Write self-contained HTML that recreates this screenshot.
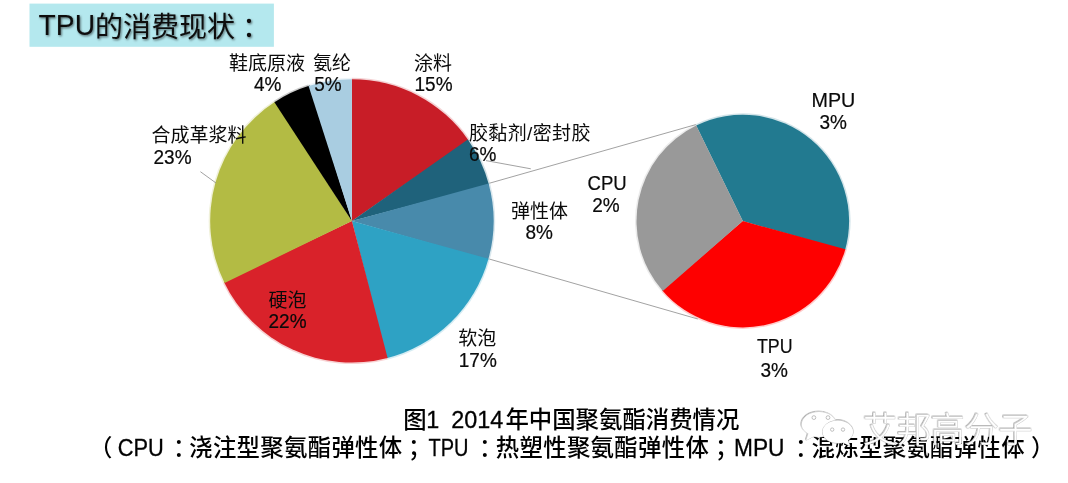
<!DOCTYPE html>
<html lang="zh-CN"><head><meta charset="utf-8"><title>TPU的消费现状</title>
<style>
html,body{margin:0;padding:0;background:#fff;}
body{width:1068px;height:483px;overflow:hidden;position:relative;font-family:"Liberation Sans","Noto Sans CJK SC",sans-serif;}
svg{position:absolute;left:0;top:0;display:block;}
svg text{font-family:"Liberation Sans","Noto Sans CJK SC",sans-serif;fill:#0a0a0a;font-weight:500;}
.lt{stroke:#0a0a0a;stroke-width:0.3px;}
.lab text{font-size:19px;font-weight:400;}
.lab .lt{font-size:19.95px;stroke-width:0.2px;}
.cap text{font-size:23.4px;fill:#000;}
.title{font-size:28px;fill:#0b0b0b;font-weight:400;}
.title .tl{font-size:30px;}
.wm{font-size:34px;fill:#fff;font-weight:300;}
</style></head><body>
<svg width="1068" height="483" viewBox="0 0 1068 483">
<defs>
<filter id="ts" x="-5%" y="-20%" width="110%" height="150%"><feDropShadow dx="1" dy="1.2" stdDeviation="0.9" flood-color="#000" flood-opacity="0.55"/></filter>
<filter id="ws" x="-5%" y="-20%" width="110%" height="150%"><feDropShadow dx="-0.6" dy="-0.6" stdDeviation="0.45" flood-color="#000" flood-opacity="0.45"/></filter>
</defs>
<rect x="29.5" y="3.6" width="244.4" height="43.2" fill="#b4e8ee"/>
<g filter="url(#ts)"><text class="title"><tspan class="tl" x="38.6" y="35" textLength="56.4" lengthAdjust="spacingAndGlyphs">TPU</tspan><tspan x="95" y="36.6">的消费现状</tspan><tspan x="242" y="36.6">：</tspan></text></g>
<path d="M351.90,220.90L351.90,77.70A143.2,143.2 0 0 1 469.06,138.56Z" fill="#c81d27" fill-opacity="0.2"/>
<path d="M351.90,220.90L469.06,138.56A143.2,143.2 0 0 1 490.02,183.11Z" fill="#1f627b" fill-opacity="0.2"/>
<path d="M351.90,220.90L490.02,183.11A143.2,143.2 0 0 1 489.89,259.17Z" fill="#488aab" fill-opacity="0.2"/>
<path d="M351.90,220.90L489.89,259.17A143.2,143.2 0 0 1 388.00,359.48Z" fill="#2ea2c4" fill-opacity="0.2"/>
<path d="M351.90,220.90L388.00,359.48A143.2,143.2 0 0 1 223.19,283.67Z" fill="#d9222a" fill-opacity="0.2"/>
<path d="M351.90,220.90L223.19,283.67A143.2,143.2 0 0 1 273.59,101.01Z" fill="#b3bb44" fill-opacity="0.2"/>
<path d="M351.90,220.90L273.59,101.01A143.2,143.2 0 0 1 308.12,84.56Z" fill="#000000" fill-opacity="0.2"/>
<path d="M351.90,220.90L308.12,84.56A143.2,143.2 0 0 1 351.90,77.70Z" fill="#a9cde1" fill-opacity="0.2"/>
<path d="M351.90,220.90L351.90,79.20A141.7,141.7 0 0 1 468.54,140.44Z" fill="#c81d27"/>
<path d="M351.90,220.90L467.83,139.42A141.7,141.7 0 0 1 488.90,184.70Z" fill="#1f627b"/>
<path d="M351.90,220.90L488.58,183.51A141.7,141.7 0 0 1 488.11,259.96Z" fill="#488aab"/>
<path d="M351.90,220.90L488.45,258.77A141.7,141.7 0 0 1 386.42,358.33Z" fill="#2ea2c4"/>
<path d="M351.90,220.90L387.62,358.02A141.7,141.7 0 0 1 224.00,281.90Z" fill="#d9222a"/>
<path d="M351.90,220.90L224.54,283.02A141.7,141.7 0 0 1 275.45,101.59Z" fill="#b3bb44"/>
<path d="M351.90,220.90L274.41,102.26A141.7,141.7 0 0 1 309.76,85.61Z" fill="#000000"/>
<path d="M351.90,220.90L308.58,85.98A141.7,141.7 0 0 1 351.90,79.20Z" fill="#a9cde1"/>
<path d="M742.80,221.10L695.54,124.21A107.8,107.8 0 0 1 846.78,249.55Z" fill="#227a90" fill-opacity="0.2"/>
<path d="M742.80,221.10L846.78,249.55A107.8,107.8 0 0 1 661.69,292.11Z" fill="#fe0000" fill-opacity="0.2"/>
<path d="M742.80,221.10L661.69,292.11A107.8,107.8 0 0 1 695.54,124.21Z" fill="#999999" fill-opacity="0.2"/>
<path d="M742.80,221.10L696.20,125.56A106.3,106.3 0 0 1 845.03,250.22Z" fill="#227a90"/>
<path d="M742.80,221.10L845.33,249.15A106.3,106.3 0 0 1 662.09,290.28Z" fill="#fe0000"/>
<path d="M742.80,221.10L662.82,291.12A106.3,106.3 0 0 1 696.20,125.56Z" fill="#999999"/>
<g stroke="#8a8a8a" stroke-width="0.8" fill="none">
<line x1="489.5" y1="183.2" x2="695.8" y2="124.6"/>
<line x1="489.5" y1="259.1" x2="697.8" y2="319"/>
<line x1="486" y1="160.6" x2="530.8" y2="168.8"/>
<line x1="200.4" y1="171.7" x2="216" y2="183"/>
</g>
<g class="lab">
<text><tspan x="229" y="70">鞋底原液</tspan> <tspan class="lt" x="254" y="91.3" textLength="27.47" lengthAdjust="spacingAndGlyphs">4%</tspan></text>
<text><tspan x="313" y="70">氨纶</tspan> <tspan class="lt" x="314.3" y="91.3" textLength="27.47" lengthAdjust="spacingAndGlyphs">5%</tspan></text>
<text><tspan x="414" y="70">涂料</tspan> <tspan class="lt" x="414.5" y="91.3" textLength="38.03" lengthAdjust="spacingAndGlyphs">15%</tspan></text>
<text><tspan x="151.6" y="142">合成革浆料</tspan> <tspan class="lt" x="153.5" y="164.3" textLength="38.03" lengthAdjust="spacingAndGlyphs">23%</tspan></text>
<text><tspan x="469" y="139.5" textLength="121.4" lengthAdjust="spacing">胶黏剂/密封胶</tspan> <tspan class="lt" x="469" y="160.8" textLength="27.47" lengthAdjust="spacingAndGlyphs">6%</tspan></text>
<text><tspan x="511" y="218">弹性体</tspan> <tspan class="lt" x="525.5" y="239" textLength="27.47" lengthAdjust="spacingAndGlyphs">8%</tspan></text>
<text><tspan class="lt" x="587.5" y="189.8" textLength="39.2" lengthAdjust="spacingAndGlyphs">CPU</tspan> <tspan class="lt" x="592.3" y="211.5" textLength="27.47" lengthAdjust="spacingAndGlyphs">2%</tspan></text>
<text><tspan class="lt" x="811.5" y="107" textLength="43.8" lengthAdjust="spacingAndGlyphs">MPU</tspan> <tspan class="lt" x="819.4" y="129.4" textLength="27.47" lengthAdjust="spacingAndGlyphs">3%</tspan></text>
<text><tspan class="lt" x="757" y="353.4" textLength="35.6" lengthAdjust="spacingAndGlyphs">TPU</tspan> <tspan class="lt" x="760.5" y="376.7" textLength="27.47" lengthAdjust="spacingAndGlyphs">3%</tspan></text>
<text><tspan x="268.5" y="307">硬泡</tspan> <tspan class="lt" x="268.5" y="328" textLength="38.03" lengthAdjust="spacingAndGlyphs">22%</tspan></text>
<text><tspan x="458.3" y="344.7">软泡</tspan> <tspan class="lt" x="458.8" y="366.9" textLength="38.03" lengthAdjust="spacingAndGlyphs">17%</tspan></text>
</g>
<g class="cap">
<text><tspan x="403.2" y="427.8">图</tspan><tspan class="lt" x="426.2" y="427.8">1 </tspan><tspan class="lt" x="451.2" y="427.8">2014</tspan><tspan x="505.4" y="427.8" textLength="234" lengthAdjust="spacing">年中国聚氨酯消费情况</tspan></text>
<text><tspan x="89" y="456.1">（</tspan><tspan class="lt" x="117.8" y="456.1" textLength="46" lengthAdjust="spacingAndGlyphs">CPU</tspan><tspan x="173" y="456.1">：</tspan><tspan x="189.2" y="456.1" textLength="213" lengthAdjust="spacing">浇注型聚氨酯弹性体</tspan><tspan x="408" y="456.1">；</tspan><tspan class="lt" x="428.5" y="456.1" textLength="40" lengthAdjust="spacingAndGlyphs">TPU</tspan><tspan x="479" y="456.1">：</tspan><tspan x="495.8" y="456.1" textLength="213" lengthAdjust="spacing">热塑性聚氨酯弹性体</tspan><tspan x="715" y="456.1">；</tspan><tspan class="lt" x="734" y="456.1" textLength="50.5" lengthAdjust="spacingAndGlyphs">MPU</tspan><tspan x="795" y="456.1">：</tspan><tspan x="811.6" y="456.1" textLength="213" lengthAdjust="spacing">混炼型聚氨酯弹性体</tspan><tspan x="1031" y="456.1">）</tspan></text>
</g>
<g filter="url(#ws)" stroke="#cfcfcf" stroke-width="1" paint-order="stroke">
<text class="wm" x="863" y="441.5" textLength="169.5" lengthAdjust="spacing">艾邦高分子</text>
<path d="M819,412.1 c9.5,0 17.2,5.5 17.2,12.4 s-7.7,12.4 -17.2,12.4 c-1.8,0 -3.5,-0.2 -5.1,-0.6 l-7.6,3.9 l2.1,-6.6 c-4,-2.2 -6.6,-5.5 -6.6,-9.1 c0,-6.9 7.7,-12.4 17.2,-12.4z" fill="#fff"/>
<path d="M837.8,420.5 c8.4,0 15.3,5 15.3,11.3 c0,3.3 -2,6.3 -5.2,8.4 l1.9,5.5 l-6.6,-3.3 c-1.7,0.45 -3.5,0.7 -5.4,0.7 c-8.4,0 -15.3,-5 -15.3,-11.3 s6.9,-11.3 15.3,-11.3z" fill="#fff" stroke="#bdbdbd"/>
</g>
<g fill="#fff" stroke="#b0b0b0" stroke-width="0.8"><circle cx="813.9" cy="417.6" r="1.9"/><circle cx="828" cy="417.6" r="1.9"/><circle cx="832.2" cy="429.6" r="1.7"/><circle cx="843" cy="429.6" r="1.7"/></g>
</svg>
</body></html>
